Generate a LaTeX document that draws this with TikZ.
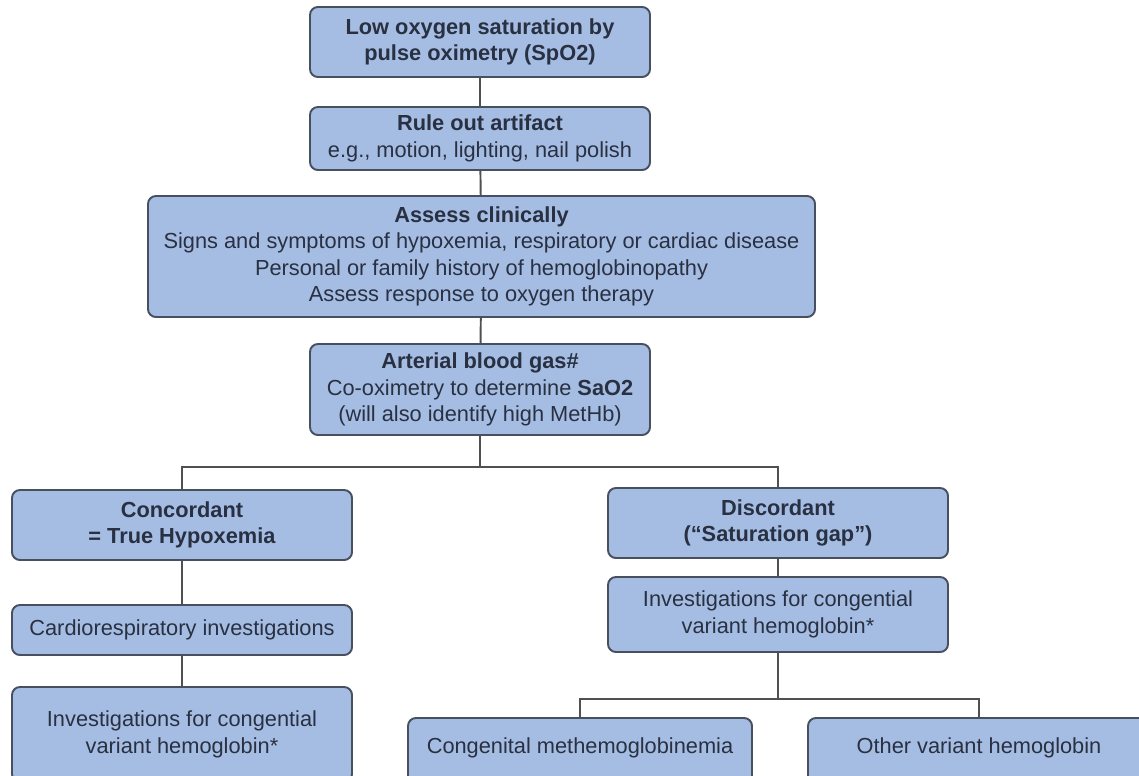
\documentclass[tikz,border=0pt]{standalone}
\usepackage{fontspec}
\setmainfont{Liberation Sans}
\usepackage{xcolor}
\usetikzlibrary{positioning}

\definecolor{boxfill}{RGB}{166,189,227}
\definecolor{boxline}{RGB}{72,80,96}
\definecolor{boxtext}{RGB}{40,48,66}
\definecolor{linkline}{RGB}{80,80,80}

\begin{document}
\begin{tikzpicture}[
        step box/.style={rectangle, rounded corners=4.5pt, fill=boxfill, draw=boxline, line width=1.1pt,
            text=boxtext, align=center, inner sep=2pt, font=\fontsize{12.4}{15}\selectfont},
        link/.style={draw=linkline, line width=1.1pt}
    ]
        \useasboundingbox (0,0) rectangle (22.78,-15.5);
        \clip (0,0) rectangle (22.78,-15.5);

        % Main column
        \node[step box, minimum width=6.8cm, minimum height=1.4cm] (spo) at (9.6,-0.84)
            {\textbf{Low oxygen saturation by}\\\textbf{pulse oximetry (SpO2)}};
        \node[step box, minimum width=6.8cm, minimum height=1.26cm] (artifact) at (9.6,-2.77)
            {\textbf{Rule out artifact}\\e.g., motion, lighting, nail polish};
        \node[step box, minimum width=13.34cm, minimum height=2.42cm] (assess) at (9.63,-5.13)
            {\textbf{Assess clinically}\\Signs and symptoms of hypoxemia, respiratory or cardiac disease\\
             Personal or family history of hemoglobinopathy\\Assess response to oxygen therapy};
        \node[step box, minimum width=6.8cm, minimum height=1.82cm] (abg) at (9.6,-7.79)
            {\textbf{Arterial blood gas\#}\\Co-oximetry to determine \textbf{SaO2}\\(will also identify high MetHb)};

        % Concordant branch
        \node[step box, minimum width=6.8cm, minimum height=1.4cm] (concordant) at (3.64,-10.5)
            {\textbf{Concordant}\\\textbf{= True Hypoxemia}};
        \node[step box, minimum width=6.8cm, minimum height=1.0cm] (cardio) at (3.64,-12.6)
            {Cardiorespiratory investigations};
        \node[step box, minimum width=6.8cm, minimum height=1.9cm] (invleft) at (3.64,-14.69)
            {Investigations for congential\\variant hemoglobin*};

        % Discordant branch
        \node[step box, minimum width=6.8cm, minimum height=1.4cm] (discordant) at (15.56,-10.46)
            {\textbf{Discordant}\\\textbf{(“Saturation gap”)}};
        \node[step box, minimum width=6.8cm, minimum height=1.5cm] (invright) at (15.56,-12.29)
            {Investigations for congential\\variant hemoglobin*};
        \node[step box, minimum width=6.88cm, minimum height=1.34cm] (methb) at (11.6,-15.03)
            {\raisebox{0.5em}{Congenital methemoglobinemia}};
        \node[step box, minimum width=6.84cm, minimum height=1.34cm] (othervar) at (19.58,-15.03)
            {\raisebox{0.5em}{Other variant hemoglobin}};

        % Connections
        \coordinate (split) at (9.6,-9.34);
        \coordinate (split2) at (15.56,-13.98);
        \draw[link] (spo) -- (artifact);
        \draw[link] (artifact) -- (assess);
        \draw[link] (assess) -- (abg);
        \draw[link] (abg) -- (split);
        \draw[link] (concordant.north) |- (split) -| (discordant.north);
        \draw[link] (concordant) -- (cardio);
        \draw[link] (cardio) -- (invleft);
        \draw[link] (discordant) -- (invright);
        \draw[link] (invright) -- (split2);
        \draw[link] (methb.north) |- (split2) -| (othervar.north);
    \end{tikzpicture}
\end{document}
